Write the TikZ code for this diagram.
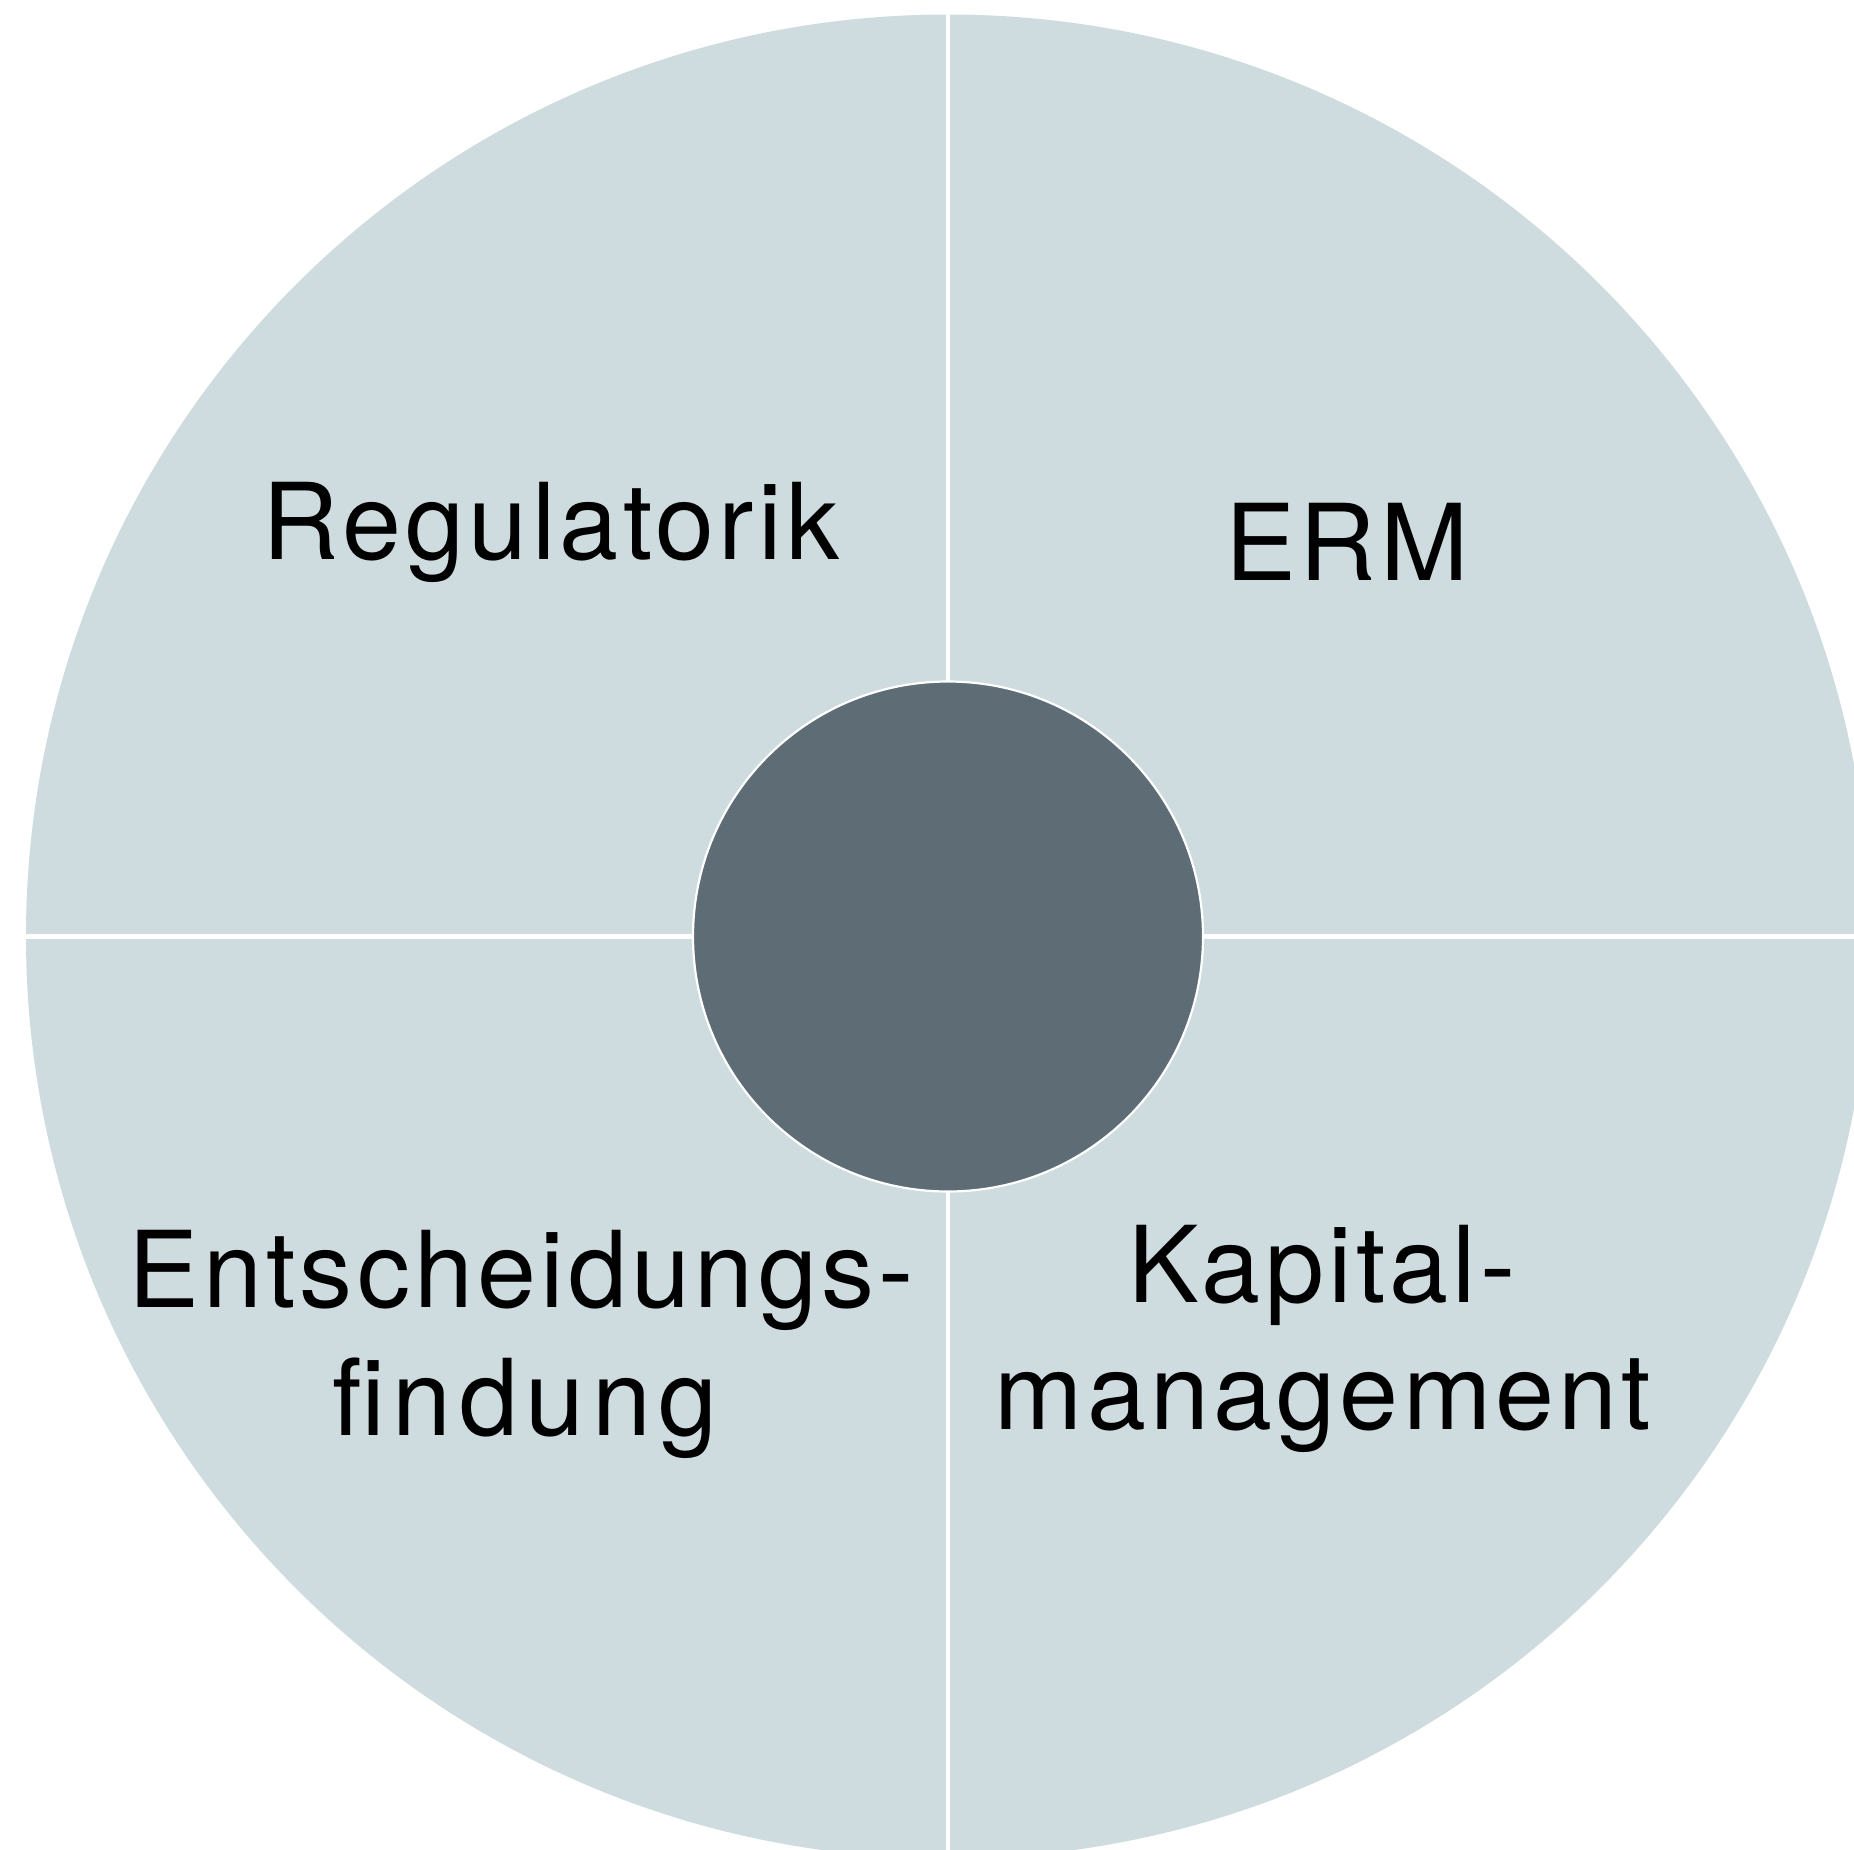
\documentclass[tikz,border=0pt]{standalone}
\usepackage{fontspec}
\setmainfont{TeX Gyre Heros}[LetterSpace=4]
\definecolor{lightfill}{RGB}{206,219,223}
\definecolor{darkfill}{RGB}{94,108,118}
\tikzset{
  ring/.style={circle, fill=lightfill, inner sep=0pt, minimum size=1844pt},
  hub/.style={circle, fill=darkfill, draw=white, line width=2.2pt, inner sep=0pt, minimum size=510pt},
  sepline/.style={draw=white, line width=4.5pt},
  lbl/.style={anchor=base, inner sep=0pt, font=\fontsize{106}{128}\selectfont, text=black}
}
\begin{document}
\begin{tikzpicture}[x=1pt,y=-1pt]
\useasboundingbox (0,0) rectangle (1854,1849);
\clip (0,0) rectangle (1854,1849);
\fill[white] (0,0) rectangle (1854,1849);
\node[ring] (outer) at (948,936.5) {};
\draw[sepline] (outer.north) -- (outer.south);
\draw[sepline] (outer.west) -- (outer.east);
\node[hub] (inner) at (948,936.5) {};
\node[lbl] (reg) at (551,559) {Regulatorik};
\node[lbl] (erm) at (1347,580) {ERM};
\node[lbl] (ent1) at (521,1307) {Entscheidungs-};
\node[lbl] (ent2) at (525,1435) {\addfontfeatures{LetterSpace=7}findung};
\node[lbl] (kap1) at (1322,1302) {Kapital-};
\node[lbl] (kap2) at (1323,1429) {management};
\end{tikzpicture}
\end{document}
